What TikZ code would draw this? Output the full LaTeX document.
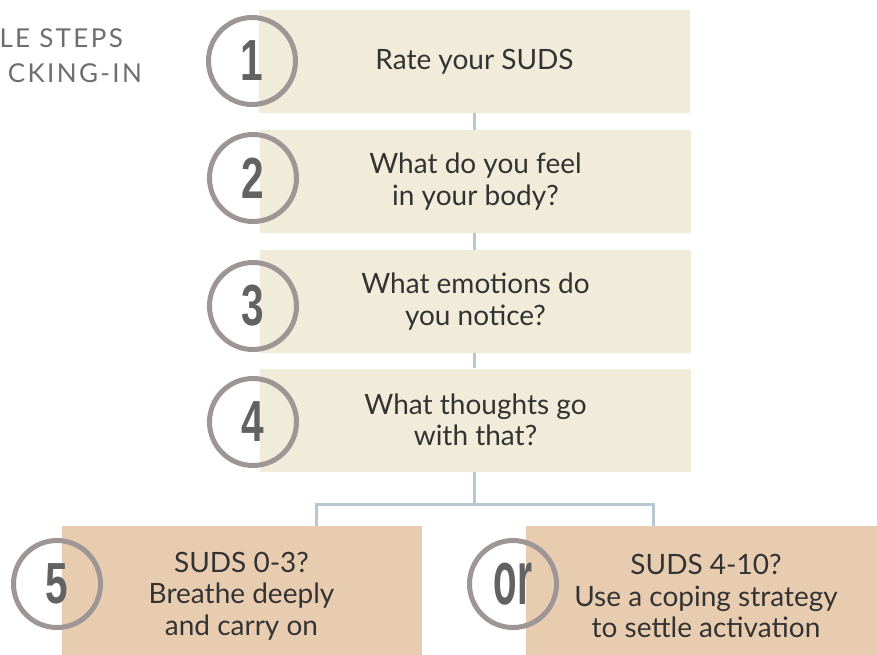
\documentclass[tikz,border=0pt]{standalone}
\usepackage{fontspec}
\setmainfont{Lato}
\newfontfamily\numfont[FakeStretch=0.7]{Liberation Sans}
\newfontfamily\orfont[FakeStretch=0.5]{Liberation Sans}
\newfontfamily\titlefont[LetterSpace=9]{Lato}
\definecolor{cream}{HTML}{F1EBDA}
\definecolor{tan}{HTML}{E8CCB0}
\definecolor{ringgray}{HTML}{9E9596}
\definecolor{numgray}{HTML}{626262}
\definecolor{linkblue}{HTML}{B6C9D1}
\definecolor{textdark}{HTML}{333333}
\definecolor{titlegray}{HTML}{6E6E6E}

\begin{document}
\begin{tikzpicture}[x=1pt, y=-1pt,
    stepbox/.style={fill=cream, minimum width=431pt, minimum height=103pt, inner sep=0pt,
      align=center, text=textdark, font=\fontsize{28}{31.5}\selectfont},
    choicebox/.style={fill=tan, minimum width=360pt, minimum height=140pt, inner sep=0pt,
      align=center, text=textdark, font=\fontsize{28}{31.5}\selectfont},
    ring/.style={circle, draw=ringgray, line width=5pt, minimum size=87pt, inner sep=0pt,
      text=numgray, font=\numfont\bfseries\fontsize{58}{58}\selectfont},
    link/.style={draw=linkblue, line width=3pt},
    title/.style={anchor=base east, inner sep=0pt, text=titlegray,
      font=\titlefont\fontsize{26}{26}\selectfont}]
    \useasboundingbox (0,0) rectangle (877,654);

    % title, cut by the left edge
    \node[title] (t1) at (123,47) {LE STEPS};
    \node[title] (t2) at (142,82) {CKING-IN};

    % steps 1 to 4
    \node[stepbox] (s1) at (474.5,61.5) {Rate your SUDS};
    \node[stepbox] (s2) at (475.5,181.5) {What do you feel\\ in your body?};
    \node[stepbox] (s3) at (475.5,301.5) {What emotions do\\ you notice?};
    \node[stepbox] (s4) at (475.5,420) {What thoughts go\\ with that?};

    % links between steps
    \draw[link] (s1.south -| 474,0) -- (s2.north -| 474,0);
    \draw[link] (s2.south -| 474,0) -- (s3.north -| 474,0);
    \draw[link] (s3.south -| 474,0) -- (s4.north -| 474,0);

    % the two choices
    \node[choicebox] (b5) at (241.5,596) {SUDS 0-3?\\ Breathe deeply\\ and carry on};
    \node[choicebox] (bor) at (706,596) {SUDS 4-10?\\ Use a coping strategy\\ to settle activation};

    % fork to choices
    \coordinate (fork) at (474,504);
    \coordinate (l5) at (316,526);
    \coordinate (lor) at (653,526);
    \draw[link] (s4.south -| fork) -- (fork);
    \draw[link] (l5) |- (fork) -| (lor);

    % number rings
    \node[ring] (n1) at (252,61) {1};
    \node[ring] (n2) at (253,178) {2};
    \node[ring] (n3) at (253,306) {3};
    \node[ring] (n4) at (253,422) {4};
    \node[ring] (n5) at (57,584) {5};
    \node[ring, font=\orfont\bfseries\fontsize{77}{77}\selectfont] (nor) at (513,584) {or};
\end{tikzpicture}
\end{document}
